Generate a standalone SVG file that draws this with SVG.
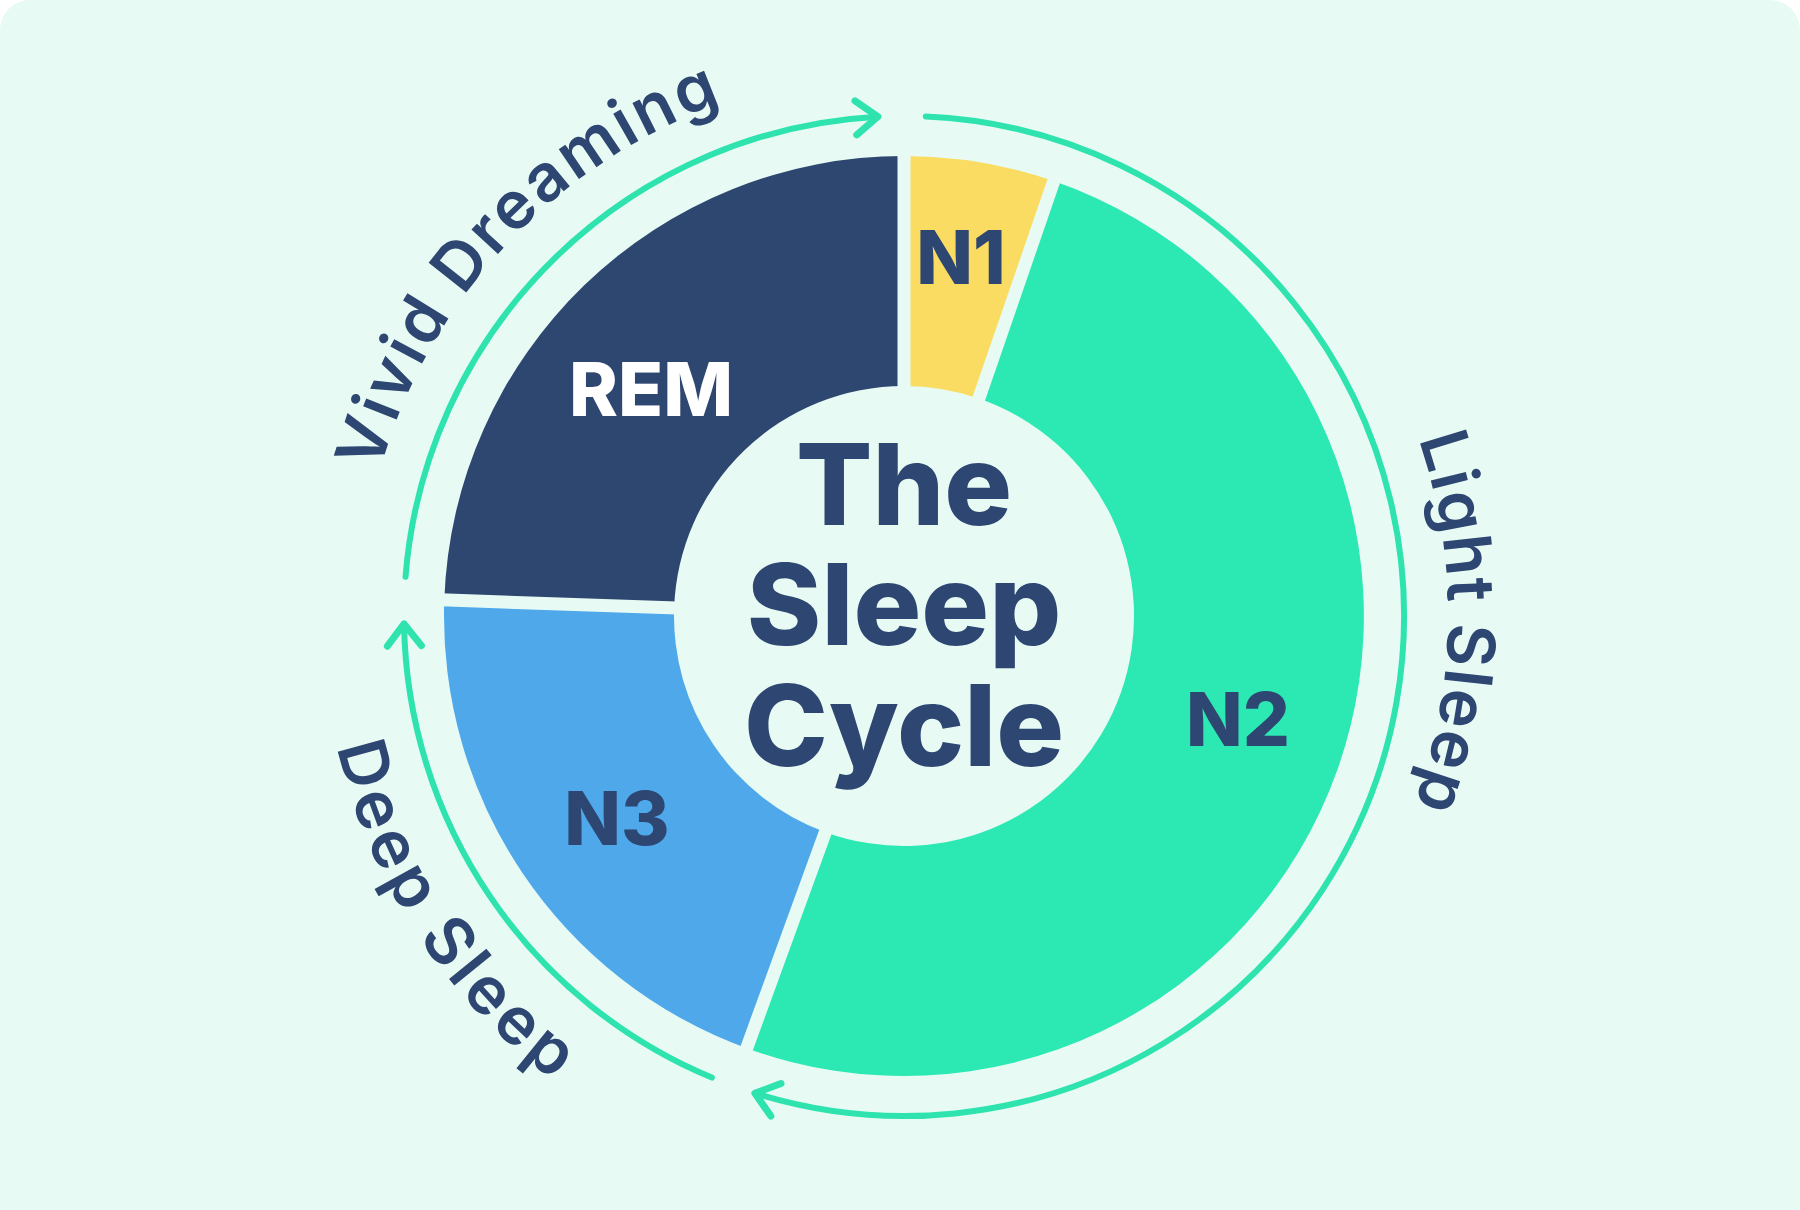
<svg xmlns="http://www.w3.org/2000/svg" width="1800" height="1210" viewBox="0 0 1800 1210">
  <style>
    .seg-label { font-family: Inter, "Liberation Sans", sans-serif; font-weight: 800; font-size: 74px; text-anchor: middle; }
    .title { font-family: Inter, "Liberation Sans", sans-serif; font-weight: 800; font-size: 113px; text-anchor: middle; fill: #2D4672; }
    .arc-label { font-family: Inter, "Liberation Sans", sans-serif; font-weight: 600; font-size: 66px; fill: #2D4672; }
    .ring { fill: none; stroke: #2EE3AE; stroke-width: 6; stroke-linecap: round; }
    .gap { stroke: #E7FBF4; stroke-width: 13; }
  </style>
  <defs>
    <marker id="chev" markerUnits="userSpaceOnUse" orient="auto" refX="0" refY="0" markerWidth="60" markerHeight="60" overflow="visible">
      <path d="M-22,-17 L0,0 L-22,17" fill="none" stroke="#2EE3AE" stroke-width="7" stroke-linecap="round" stroke-linejoin="round"/>
    </marker>
    <path id="p-vivid" d="M385.02,779.34 A545,545 0 0 1 1028.5,85.45" fill="none"/>
    <path id="p-light" d="M1181.46,148.08 A544,544 0 0 1 1170.5,1090.25" fill="none"/>
    <path id="p-deep" d="M385.43,351.78 A582,582 0 0 0 934.46,1197.2" fill="none"/>
  </defs>

  <rect width="1800" height="1210" fill="#FFFFFF"/>
  <path d="M0,30 A30,30 0 0 1 30,0 L1770,0 A30,30 0 0 1 1800,30 L1800,1210 L0,1210 Z" fill="#E7FBF4"/>

  <g id="node-rem">
    <path d="M444.28,599.95 A460,460 0 0 1 904,156 L904,386 A230,230 0 0 0 674.14,607.97 Z" fill="#2E4770"/>
    <text class="seg-label" x="651" y="416" fill="#FFFFFF">REM</text>
  </g>
  <g id="node-n1">
    <path d="M904,156 A460,460 0 0 1 1053.76,181.06 L978.88,398.53 A230,230 0 0 0 904,386 Z" fill="#FADC62"/>
    <text class="seg-label" x="961" y="284" fill="#2D4672">N1</text>
  </g>
  <g id="node-n2">
    <path d="M1053.76,181.06 A460,460 0 1 1 746.67,1048.26 L825.34,832.13 A230,230 0 1 0 978.88,398.53 Z" fill="#2CE8B2"/>
    <text class="seg-label" x="1238" y="746" fill="#2D4672">N2</text>
  </g>
  <g id="node-n3">
    <path d="M746.67,1048.26 A460,460 0 0 1 444.28,599.95 L674.14,607.97 A230,230 0 0 0 825.34,832.13 Z" fill="#4EA8EA"/>
    <text class="seg-label" x="617" y="845" fill="#2D4672">N3</text>
  </g>
  <g id="gaps">
    <line class="gap" x1="904" y1="396" x2="904" y2="146"/>
    <line class="gap" x1="975.63" y1="407.99" x2="1057.02" y2="171.61"/>
    <line class="gap" x1="828.76" y1="822.73" x2="743.25" y2="1057.65"/>
    <line class="gap" x1="684.13" y1="608.32" x2="434.29" y2="599.6"/>
  </g>

  <g id="node-title">
    <text class="title" x="904" y="525">The</text>
    <text class="title" x="904" y="645">Sleep</text>
    <text class="title" x="904" y="766">Cycle</text>
  </g>

  <g id="connectors">
    <path class="ring" d="M405.54,576.77 A500,500 0 0 1 877.83,116.68" marker-end="url(#chev)"/>
    <path class="ring" d="M925.81,116.48 A500,500 0 1 1 754.9,1093.25" marker-end="url(#chev)"/>
    <path class="ring" d="M711.85,1077.6 A500,500 0 0 1 404.06,623.85" marker-end="url(#chev)"/>
    <text class="arc-label"><textPath href="#p-vivid" startOffset="50%" text-anchor="middle" textLength="523" lengthAdjust="spacing">Vivid Dreaming</textPath></text>
    <text class="arc-label"><textPath href="#p-light" startOffset="50%" text-anchor="middle" textLength="373" lengthAdjust="spacing">Light Sleep</textPath></text>
    <text class="arc-label"><textPath href="#p-deep" startOffset="50%" text-anchor="middle" textLength="406" lengthAdjust="spacing">Deep Sleep</textPath></text>
  </g>
</svg>
